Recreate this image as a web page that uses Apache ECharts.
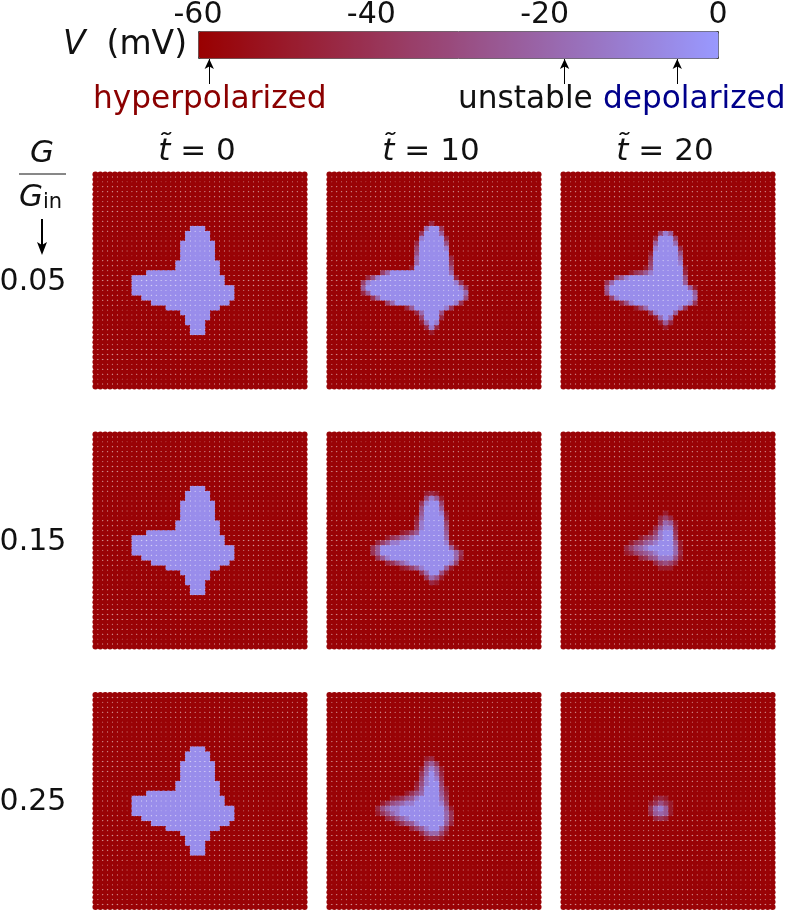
<!DOCTYPE html>
<html>
<head>
<meta charset="utf-8">
<style>html,body{margin:0;padding:0;background:#fff}#c{width:787px;height:912px}</style>
<script src="https://cdn.jsdelivr.net/npm/echarts@6/dist/echarts.min.js"></script>
</head>
<body>
<div id="c"></div>
<script>
// ---------- data ----------
var timeLabels = ['0', '10', '20'];
var conductanceLabels = ['0.05', '0.15', '0.25'];
var barTicks = [-60, -40, -20, 0];
var arrowVoltages = [-58.7, -17.7, -4.7];
var restVoltage = -58.7;
// digit in a blob row -> membrane voltage (mV)
var levels = [-55, -50, -45, -40, -35, -30, -25, -20, -12, -4.7];

// each row: [lattice row, first lattice column, voltage digits]
var blobStart = [
  [11,20,"999"],[12,19,"99999"],[13,19,"99999"],[14,18,"9999999"],[15,18,"9999999"],
  [16,18,"9999999"],[17,18,"9999999"],[18,17,"999999999"],[19,17,"999999999"],
  [20,11,"999999999999999"],[21,8,"9999999999999999999"],[22,8,"9999999999999999999"],
  [23,8,"999999999999999999999"],[24,8,"999999999999999999999"],[25,10,"9999999999999999999"],
  [26,12,"9999999999999999"],[27,15,"99999999999"],[28,18,"999999"],[29,19,"99999"],
  [30,19,"9999"],[31,20,"999"],[32,20,"999"]
];
var blobG05T10 = [
  [10,21,"2"],[11,20,"7993"],[12,19,"39996"],[13,19,"899992"],[14,18,"2999995"],
  [15,18,"4999998"],[16,18,"5999999"],[17,18,"79999992"],[18,18,"79999993"],
  [19,17,"199999995"],[20,11,"47999999999999"+"7"],[21,8,"258999999999999999"+"2"],
  [22,7,"4899999999999999999"+"83"],[23,7,"69999999999999999999"+"83"],
  [24,7,"269999999999999999999"+"7"],[25,9,"3799999999999999999"+"5"],
  [26,12,"47999999999999"+"83"],[27,16,"26999999"+"83"],[28,18,"279995"],
  [29,19,"49992"],[30,19,"1798"],[31,20,"282"],[32,21,"1"]
];
var blobG05T20 = [
  [12,20,"486"],[13,19,"29994"],[14,19,"69997"],[15,19,"899992"],[16,18,"1999995"],
  [17,18,"3999997"],[18,18,"4999998"],[19,17,"159999991"],[20,14,"134689999992"],
  [21,11,"468999999999995"],[22,9,"3799999999999999"+"6"],[23,9,"69999999999999999"+"61"],
  [24,9,"599999999999999999"+"6"],[25,10,"48999999999999999"+"7"],
  [26,12,"25899999999999"+"83"],[27,15,"147999999"+"83"],[28,18,"389996"],
  [29,19,"1797"],[30,20,"162"],[31,21,"1"]
];
var blobG15T10 = [
  [12,20,"121"],[13,20,"5861"],[14,19,"38994"],[15,19,"59996"],[16,19,"699981"],
  [17,18,"1799992"],[18,18,"2899994"],[19,18,"3899995"],[20,15,"1246999996"],
  [21,12,"134678999999"+"7"],[22,10,"24688999999999"+"81"],[23,9,"369999999999999"+"961"],
  [24,9,"369999999999999"+"9973"],[25,10,"368999999999999"+"972"],
  [26,12,"235789999999"+"984"],[27,15,"12468999961"],[28,19,"379951"],[29,20,"3751"],[30,21,"21"]
];
var blobG15T20 = [
  [16,21,"1"],[17,20,"242"],[18,20,"3761"],[19,19,"26882"],[20,18,"148993"],
  [21,16,"13468994"],[22,14,"13467899961"],[23,13,"2467899999"+"71"],
  [24,13,"1245678999"+"72"],[25,16,"235688851"],[26,19,"24542"],[27,20,"111"]
];
var blobG25T10 = [
  [13,20,"12"],[14,20,"463"],[15,19,"16861"],[16,19,"37972"],[17,19,"48983"],
  [18,18,"158994"],[19,18,"2699951"],[20,16,"135799962"],[21,13,"123568999973"],
  [22,11,"13567889999984"],[23,10,"25788999999999"+"61"],[24,10,"13578999999999"+"73"],
  [25,12,"235789999999"+"73"],[26,14,"135689999962"],[27,17,"2468997"+"3"],
  [28,19,"257741"],[29,20,"1221"]
];
var blobG25T20 = [
  [21,19,"121"],[22,18,"13531"],[23,18,"37861"],[24,18,"26761"],[25,19,"232"]
];
var panelBlobs = [
  [blobStart, blobG05T10, blobG05T20],
  [blobStart, blobG15T10, blobG15T20],
  [blobStart, blobG25T10, blobG25T20]
];
var latticeSize = 44;

// ---------- layout ----------
var panelLeft = [93, 327, 561];
var panelTop = [172, 432, 692.5];
var panelW = 214, panelH = 217;
var FONT = '"DejaVu Sans",sans-serif';

function panelData(blob) {
  var grid = [];
  for (var r = 0; r < latticeSize; r++) {
    grid.push([]);
    for (var c = 0; c < latticeSize; c++) grid[r].push(restVoltage);
  }
  blob.forEach(function (row) {
    for (var i = 0; i < row[2].length; i++) grid[row[0]][row[1] + i] = levels[+row[2][i]];
  });
  var out = [];
  for (r = 0; r < latticeSize; r++) for (c = 0; c < latticeSize; c++) out.push([c, r, grid[r][c]]);
  // brighter cells are painted last so their soft edge is not covered
  out.sort(function (a, b) { return a[2] - b[2]; });
  return out;
}

var grids = [
  {left: 198, top: 31, width: 520, height: 27, show: false},
  {left: 198, top: 59, width: 520, height: 25, show: false}
];
var xAxes = [
  {gridIndex: 0, type: 'value', position: 'top', min: -60, max: 0, interval: 20, data: barTicks,
   axisLine: {show: false}, axisTick: {show: false}, splitLine: {show: false},
   axisLabel: {show: true, fontSize: 30, color: '#111', margin: 2, fontFamily: FONT, hideOverlap: false}},
  {gridIndex: 1, type: 'value', min: -60, max: 0, show: false}
];
var yAxes = [
  {gridIndex: 0, type: 'value', min: 0, max: 1, show: false},
  {gridIndex: 1, type: 'value', min: 0, max: 1, show: false}
];
var series = [
  {type: 'scatter', xAxisIndex: 1, yAxisIndex: 1, data: [], silent: true,
   markLine: {silent: true, animation: false, symbol: ['none', 'arrow'], symbolSize: [7, 10], label: {show: false},
     lineStyle: {color: '#000', width: 1, type: 'solid'},
     data: arrowVoltages.map(function (v) { return [{coord: [v, 0]}, {coord: [v, 1]}]; })}}
];
var panelSeriesIdx = [];
for (var ri = 0; ri < 3; ri++) {
  for (var ci = 0; ci < 3; ci++) {
    var gi = grids.length;
    grids.push({left: panelLeft[ci], top: panelTop[ri], width: panelW, height: panelH, show: false});
    xAxes.push({gridIndex: gi, type: 'value', min: -0.5, max: latticeSize - 0.5, show: false});
    yAxes.push({gridIndex: gi, type: 'value', min: -0.5, max: latticeSize - 0.5, inverse: true, show: false});
    panelSeriesIdx.push(series.length);
    series.push({type: 'scatter', xAxisIndex: gi, yAxisIndex: gi, symbol: 'circle', symbolSize: 6,
      silent: true, itemStyle: {opacity: 1}, data: panelData(panelBlobs[ri][ci]), progressive: 0, large: false});
  }
}

function txt(x, y, style) {
  return {type: 'text', x: x, y: y, silent: true, style: Object.assign({fontFamily: FONT, verticalAlign: 'middle'}, style)};
}
var graphics = [
  txt(187, 45, {text: '{i|V}  (mV)', align: 'right', fontSize: 33, fill: '#111',
    rich: {i: {fontStyle: 'italic', fontSize: 33, fill: '#111', fontFamily: FONT}}}),
  txt(93, 100, {text: 'hyperpolarized', fontSize: 31.2, fill: '#8b0000'}),
  txt(458, 100, {text: 'unstable', fontSize: 31.2, fill: '#111'}),
  txt(603, 100, {text: 'depolarized', fontSize: 31.2, fill: '#00008b'}),
  txt(42, 154, {text: 'G', align: 'center', fontSize: 31, fontStyle: 'italic', fill: '#111'}),
  {type: 'line', silent: true, shape: {x1: 19, y1: 174, x2: 66, y2: 174}, style: {stroke: '#111', lineWidth: 1}},
  txt(19, 198, {text: '{i|G}{s|in}', fontSize: 31, fill: '#111',
    rich: {i: {fontStyle: 'italic', fontSize: 31, fill: '#111', fontFamily: FONT},
           s: {fontSize: 21, fill: '#111', verticalAlign: 'bottom', padding: [8, 0, 0, 0], fontFamily: FONT}}}),
  {type: 'line', silent: true, shape: {x1: 42, y1: 219, x2: 42, y2: 250}, style: {stroke: '#000', lineWidth: 2}},
  {type: 'polygon', silent: true, shape: {points: [[37, 242], [42, 255], [47, 242], [42, 245]]}, style: {fill: '#000'}}
];
timeLabels.forEach(function (t, i) {
  graphics.push(txt(panelLeft[i] + 104, 152, {text: '{i|t\u0303} = ' + t, align: 'center', fontSize: 31, fill: '#111',
    rich: {i: {fontStyle: 'italic', fontSize: 31, fill: '#111', fontFamily: FONT}}}));
});
conductanceLabels.forEach(function (g, i) {
  graphics.push(txt(33, panelTop[i] + 110, {text: g, align: 'center', fontSize: 30, fill: '#111'}));
});

var chart = echarts.init(document.getElementById('c'), null, {renderer: 'canvas'});
chart.setOption({
  animation: false,
  backgroundColor: '#fff',
  textStyle: {fontFamily: FONT},
  grid: grids, xAxis: xAxes, yAxis: yAxes, series: series,
  visualMap: {
    type: 'continuous', min: -60, max: 0, dimension: 2, seriesIndex: panelSeriesIdx,
    inRange: {color: ['#990000', '#9999ff']},
    orient: 'horizontal', left: 198, top: 31, itemWidth: 27, itemHeight: 520, padding: 0,
    text: null, showLabel: false, calculable: false, hoverLink: false,
    borderColor: '#444', borderWidth: 1, realtime: false
  },
  graphic: {elements: graphics}
});
</script>
</body>
</html>
